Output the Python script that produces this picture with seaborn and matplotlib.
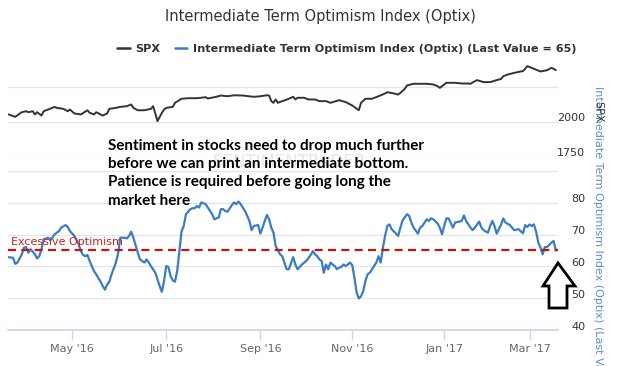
import matplotlib
matplotlib.use("Agg")
import numpy as np
import pandas as pd
import seaborn as sns
import matplotlib.pyplot as plt
from matplotlib.lines import Line2D
from matplotlib.patches import Polygon
from matplotlib.transforms import ScaledTranslation

# ---------------- data ----------------
market_holidays = ['2016-03-25', '2016-05-30', '2016-07-04', '2016-09-05', '2016-11-24',
                   '2016-12-26', '2017-01-02', '2017-01-16', '2017-02-20']
first_session = '2016-03-21'

# trading-session number (since first_session) and Optix value
optix_day = [0, 2, 3, 4, 6, 7, 8, 9, 10, 12, 13, 14, 15, 16, 18, 19, 20, 21, 23, 24,
             26, 27, 28, 30, 32, 33, 34, 35, 36, 37, 39, 40, 42, 43, 44, 45, 46, 47, 49, 50,
             51, 53, 54, 55, 56, 57, 59, 60, 61, 62,
             63, 64, 65, 67, 68, 69, 70, 71, 72, 73, 74, 75, 76, 77, 78, 79, 80, 81, 83, 84,
             85, 86, 87, 88, 90, 91, 93, 94, 95, 96, 97, 98, 99, 100, 102, 103, 104, 105, 106, 108,
             109, 110, 111, 112, 114, 115, 116, 118, 119, 120, 121, 122, 124, 125,
             127, 128, 130, 131, 132, 134, 135, 136, 138, 139, 140, 141, 142, 143, 144, 145, 146, 147, 149, 150,
             151, 152, 153, 154, 156, 157, 158, 159, 160, 161, 162, 163, 164, 165, 166, 168, 169, 170, 171, 172,
             173, 174, 175, 177, 178, 179, 180, 182, 183, 184, 185, 187, 188,
             189, 191, 192, 193, 194, 196, 197, 198, 199, 200, 201, 203, 204, 206, 207, 208, 209, 211, 212, 213,
             215, 216, 217, 219, 220, 221, 222, 223, 225, 226, 227, 229, 230, 231, 233, 235, 236, 237, 238, 239,
             240, 241, 242, 243, 244, 245, 246, 248, 249, 250]
optix_value = [62.9, 62.7, 60.8, 61.2, 63.8, 65.9, 66.1, 64.3, 65.4, 63.8, 62.5, 63.2, 65.4, 68.5, 69.0, 68.2, 69.0, 70.1, 71.1, 72.2,
               73.0, 72.4, 71.1, 69.6, 66.9, 64.8, 63.6, 63.2, 63.6, 61.7, 58.5, 57.5, 55.2, 53.8, 52.7, 54.3, 55.2, 57.5, 61.2, 64.0,
               69.0, 69.0, 68.8, 69.6, 70.9, 69.0, 64.3, 62.2, 61.7, 61.2,
               62.2, 61.2, 60.1, 58.0, 55.9, 53.8, 52.0, 55.4, 60.1, 59.8, 56.9, 55.6, 55.2, 58.5, 64.8, 71.1, 72.7, 76.4, 78.0, 78.3,
               78.3, 79.0, 78.5, 80.1, 79.6, 78.5, 76.4, 74.8, 75.1, 75.4, 78.0, 78.0, 77.4, 77.2, 79.3, 80.1, 79.6, 80.4, 79.6, 77.4,
               75.9, 74.3, 71.4, 72.7, 73.0, 70.3, 72.2, 76.2, 74.8, 72.2, 70.6, 66.4, 63.8, 63.2,
               59.1, 59.1, 62.9, 60.6, 59.1, 60.6, 61.2, 61.7, 63.6, 64.8, 63.8, 63.2, 62.2, 61.7, 58.0, 60.6, 59.1, 61.2, 60.1, 59.1,
               59.6, 59.8, 60.6, 60.1, 61.2, 60.4, 56.4, 51.7, 49.9, 50.6, 52.2, 55.4, 57.5, 58.0, 59.1, 61.2, 63.2, 61.2, 65.9, 69.6,
               72.7, 73.2, 71.7, 70.3, 69.6, 72.2, 74.5, 76.4, 75.9, 73.8, 72.2, 70.3, 72.2,
               72.7, 74.8, 74.3, 75.1, 74.8, 73.5, 72.2, 70.1, 72.7, 75.1, 75.1, 72.2, 73.8, 74.1, 74.3, 76.0, 74.3, 72.2, 71.4, 72.2,
               74.1, 72.2, 71.4, 70.6, 72.7, 74.3, 72.7, 70.3, 73.2, 75.1, 73.8, 73.0, 72.2, 71.4, 71.7, 70.4, 73.0, 72.4, 73.2, 72.7,
               73.2, 70.9, 67.5, 65.9, 63.8, 66.1, 66.1, 67.5, 68.0, 65.0]

spx_day = [0, 3, 6, 8, 9, 11, 12, 13, 15, 16, 18, 21, 22, 25, 27, 28, 30, 33, 36, 37,
           39, 40, 43, 45, 46, 49, 51, 54, 56, 57, 59, 62, 65, 66, 67, 68, 70, 71, 72, 75,
           76, 78, 79, 82, 86, 90, 91, 94, 97, 100, 103, 107, 112, 115, 118, 119, 120, 121, 122, 123,
           125, 128, 130, 131, 132, 135, 137, 140, 142, 145, 147, 151, 154, 157, 160, 161, 163, 166, 169, 172,
           173, 176, 178, 179, 181, 182, 185, 188, 191, 194, 196, 197, 199, 200, 204, 207, 210, 211, 213, 214,
           217, 220, 223, 225, 226, 228, 231, 234, 235, 237, 240, 243, 246, 248, 249, 250]
spx_value = [2054, 2037, 2070, 2077, 2070, 2077, 2054, 2070, 2046, 2077, 2089, 2108, 2101, 2094, 2077, 2089, 2061, 2054, 2084, 2066,
             2054, 2070, 2046, 2061, 2094, 2101, 2108, 2113, 2125, 2101, 2084, 2084, 2094, 2113, 2061, 2006, 2065, 2089, 2101, 2108,
             2137, 2156, 2166, 2170, 2170, 2177, 2168, 2177, 2189, 2184, 2191, 2189, 2180, 2184, 2191, 2189, 2149, 2137, 2161, 2137,
             2149, 2166, 2180, 2161, 2173, 2173, 2161, 2161, 2149, 2149, 2137, 2156, 2142, 2118, 2084, 2137, 2166, 2166, 2184, 2204,
             2213, 2204, 2196, 2208, 2237, 2261, 2273, 2273, 2273, 2268, 2256, 2244, 2268, 2280, 2280, 2275, 2275, 2273, 2291, 2299,
             2285, 2285, 2299, 2308, 2327, 2339, 2351, 2361, 2363, 2399, 2380, 2361, 2370, 2387, 2380, 2370]

excessive_level = 65
last_value = 65
month_starts = ['2016-05-01', '2016-07-01', '2016-09-01', '2016-11-01', '2017-01-01', '2017-03-01']
month_labels = ["May '16", "Jul '16", "Sep '16", "Nov '16", "Jan '17", "Mar '17"]
spx_ticks = [1750, 2000, 2250]
spx_tick_labels = ['1750', '2000', '']
optix_ticks = [40, 50, 60, 70, 80, 90]
optix_tick_labels = ['40', '50', '60', '70', '80', '']

title = 'Intermediate Term Optimism Index (Optix)'
optix_name = f'Intermediate Term Optimism Index (Optix) (Last Value = {last_value})'
note = ('Sentiment in stocks need to drop much further\n'
        'before we can print an intermediate bottom.\n'
        'Patience is required before going long the\n'
        'market here')

# ---------------- build ----------------
trading_days = pd.bdate_range(first_session, '2017-03-31', freq='C', holidays=market_holidays)
spx_df = pd.DataFrame({'session': spx_day, 'date': trading_days[spx_day], 'SPX': spx_value})
opt_df = pd.DataFrame({'session': optix_day, 'date': trading_days[optix_day], 'Optix': optix_value})
tick_pos = [int(np.searchsorted(trading_days, pd.Timestamp(m))) for m in month_starts]

sns.set_theme(style='white')
plt.rcParams['font.family'] = ['DejaVu Sans']

W, H = 640, 366
fig = plt.figure(figsize=(W / 100, H / 100), dpi=100)

def rect(l, t, r, b):
    return [l / W, 1 - b / H, (r - l) / W, (b - t) / H]

ax_spx = fig.add_axes(rect(8, 52, 558, 157))
ax_opt = fig.add_axes(rect(8, 171, 558, 330))

SPX_COL = '#333333'
OPT_COL = '#3a7dc0'
GRID = '#e6e6e6'

sns.lineplot(data=spx_df, x='session', y='SPX', ax=ax_spx, color=SPX_COL, linewidth=1.4)
sns.lineplot(data=opt_df, x='session', y='Optix', ax=ax_opt, color=OPT_COL, linewidth=1.6)
ax_opt.axhline(excessive_level, color='#cc1111', linestyle=(0, (3.6, 2.4)), linewidth=1.6, zorder=3)

xmin, xmax = -0.3, 251
shift = ScaledTranslation(0, 0.045, fig.dpi_scale_trans)
for ax, ticks, labels, lim in [(ax_spx, spx_ticks, spx_tick_labels, (1750, 2500)),
                                (ax_opt, optix_ticks, optix_tick_labels, (40, 90))]:
    ax.set_xlim(xmin, xmax)
    ax.set_ylim(*lim)
    ax.set_xlabel('')
    ax.set_ylabel('')
    for s in ax.spines.values():
        s.set_visible(False)
    ax.yaxis.tick_right()
    ax.set_yticks(ticks)
    ax.set_yticklabels(labels)
    ax.tick_params(axis='y', length=0, pad=19.5, labelsize=8, labelcolor='#333333')
    for lab in ax.get_yticklabels():
        lab.set_horizontalalignment('right')
        lab.set_transform(lab.get_transform() + shift)
    ax.grid(axis='y', color=GRID, linewidth=1)
    ax.grid(axis='x', visible=False)
    ax.set_facecolor('none')

ax_spx.set_xticks([])
ax_opt.spines['bottom'].set_visible(True)
ax_opt.spines['bottom'].set_color('#ccd6eb')
ax_opt.set_xticks(tick_pos)
ax_opt.set_xticklabels(month_labels)
ax_opt.tick_params(axis='x', length=7, width=1, color='#ccd6eb', labelsize=8,
                   labelcolor='#666666', pad=3, bottom=True)

# texts
fig.text(0.5, 1 - 17 / H, title, ha='center', va='center', fontsize=10.5, color='#333333')
handles = [Line2D([], [], color=SPX_COL, lw=1.8), Line2D([], [], color=OPT_COL, lw=1.8)]
fig.legend(handles, ['SPX', optix_name], loc='center', bbox_to_anchor=(347 / W, 1 - 49 / H),
           ncol=2, frameon=False, prop={'weight': 'bold', 'size': 8.1}, handlelength=1.1,
           handletextpad=0.5, columnspacing=1.3, labelcolor='#333333')

fig.text(598 / W, 1 - 254 / H, optix_name, rotation=270, ha='center', va='center',
         fontsize=8, color='#5b8fc9')
fig.text(598 / W, 1 - 112 / H, 'SPX', rotation=270, ha='center', va='center',
         fontsize=8, color='#333333')

fig.text(290 / W, 1 - 162 / H, 'SENTIMENTRADER', ha='center', va='center', fontsize=12,
         color='#e4e8ec', zorder=0)
fig.text(108 / W, 1 - 139 / H, note, ha='left', va='top', fontsize=11, fontweight='bold',
         family=['Lato', 'DejaVu Sans'], color='#000000', linespacing=1.38, zorder=10)
ax_opt.text(1, 67.6, 'Excessive Optimism', color='#cc2222', fontsize=8, va='center', ha='left')

arrow_px = [(558, 263), (575, 286), (567, 286), (567, 308), (549, 308), (549, 286), (543, 286)]
arrow = Polygon([(x / W, 1 - y / H) for x, y in arrow_px], closed=True, transform=fig.transFigure,
                facecolor='white', edgecolor='black', linewidth=2, zorder=20, clip_on=False)
fig.patches.append(arrow)

fig.savefig('out.png', dpi=100)
